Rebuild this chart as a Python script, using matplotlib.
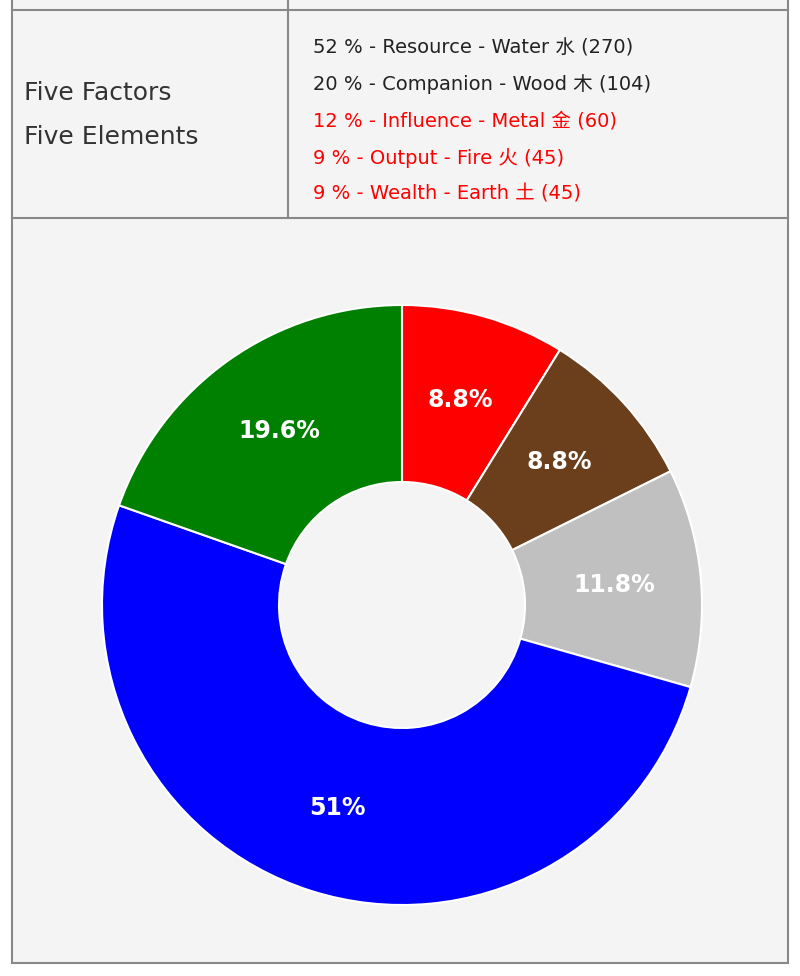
import matplotlib
matplotlib.use("Agg")
import matplotlib.pyplot as plt

# legend data
legend_lines = ["52 % - Resource - Water 水 (270)",
                "20 % - Companion - Wood 木 (104)",
                "12 % - Influence - Metal 金 (60)",
                "9 % - Output - Fire 火 (45)",
                "9 % - Wealth - Earth 土 (45)"]
legend_colors = ["#222222", "#222222", "#ff0000", "#ff0000", "#ff0000"]

# donut data (clockwise from top)
elements = ["Fire", "Earth", "Metal", "Water", "Wood"]
values = [4.5, 4.5, 6, 26, 10]
pct_labels = ["8.8%", "8.8%", "11.8%", "51%", "19.6%"]
colors = ["#ff0000", "#6b3f1c", "#c0c0c0", "#0000ff", "#008000"]

W, H = 800, 976
fig = plt.figure(figsize=(8, 9.76), dpi=100)
fig.patch.set_facecolor("white")
bg = fig.add_axes([0, 0, 1, 1])
bg.set_xlim(0, W); bg.set_ylim(H, 0); bg.axis("off")

bg.add_patch(plt.Rectangle((12, -5), 776, 968, facecolor="#f4f4f4", edgecolor="#888888", lw=1.5))
bg.plot([12, 788], [10, 10], color="#888888", lw=1.5)
bg.plot([12, 788], [218, 218], color="#888888", lw=1.5)
bg.plot([288, 288], [-5, 218], color="#888888", lw=1.5)

fam = ["DejaVu Sans", "Noto Sans CJK SC"]
bg.text(24, 93, "Five Factors", fontsize=18, color="#333333", va="center", family=fam)
bg.text(24, 137, "Five Elements", fontsize=18, color="#333333", va="center", family=fam)
for i, (t, c) in enumerate(zip(legend_lines, legend_colors)):
    bg.text(313, 48 + i * 36.5, t, fontsize=14, color=c, va="center", family=fam)

ax = fig.add_axes([102 / W, (H - 905) / H, 600 / W, 600 / H])
wedges, texts = ax.pie(values, colors=colors, startangle=90, counterclock=False,
                       radius=1.0, wedgeprops=dict(width=0.59, edgecolor="white", linewidth=1.5))
import numpy as np
total = sum(values)
cum = 0
for v, lab in zip(values, pct_labels):
    mid = 90 - (cum + v / 2) / total * 360
    cum += v
    r = 0.71
    ax.text(r * np.cos(np.radians(mid)), r * np.sin(np.radians(mid)), lab,
            ha="center", va="center", color="white", fontsize=17, fontweight="bold")
ax.set_xlim(-1, 1); ax.set_ylim(-1, 1); ax.set_aspect("equal")
fig.savefig("out.png", dpi=100)
